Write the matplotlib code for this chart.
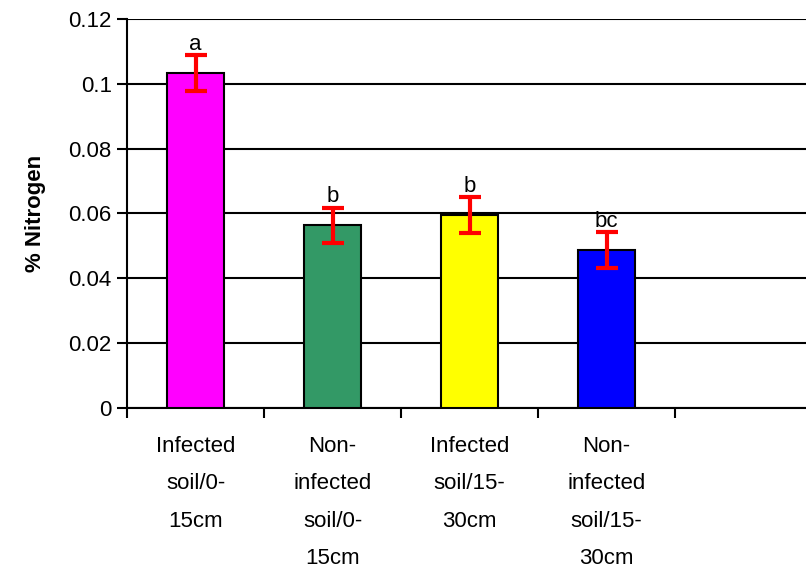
import matplotlib.pyplot as plt

plt.rcParams['font.family'] = ['Liberation Sans', 'DejaVu Sans']

labels = ['Infected\nsoil/0-\n15cm', 'Non-\ninfected\nsoil/0-\n15cm',
          'Infected\nsoil/15-\n30cm', 'Non-\ninfected\nsoil/15-\n30cm']
nitrogen = [0.1033, 0.0563, 0.0595, 0.0487]
errors = [0.0055, 0.0055, 0.0055, 0.0055]
letters = ['a', 'b', 'b', 'bc']
colors = ['#FF00FF', '#339966', '#FFFF00', '#0000FF']

fig = plt.figure(figsize=(8.06, 5.70), dpi=100)
ax = fig.add_axes([0.1576, 0.2842, 1 - 0.1576, 0.6825])

x = list(range(len(nitrogen)))
ax.bar(x, nitrogen, width=0.41, color=colors, edgecolor='black', linewidth=1.5, zorder=3)
ax.errorbar(x, nitrogen, yerr=errors, fmt='none', ecolor='red', elinewidth=3,
            capsize=8, capthick=3, zorder=4)
for xi, v, e, s in zip(x, nitrogen, errors, letters):
    ax.text(xi, v + e + 0.0002, s, ha='center', va='bottom', fontsize=16, zorder=5)

ax.set_ylim(0, 0.12)
ax.set_yticks([0, 0.02, 0.04, 0.06, 0.08, 0.1, 0.12])
ax.set_yticklabels(['0', '0.02', '0.04', '0.06', '0.08', '0.1', '0.12'])
ax.yaxis.grid(True, color='black', linewidth=1.5, zorder=0)
ax.set_axisbelow(True)

ax.set_xlim(-0.5, 4.456)
ax.set_xticks([-0.5, 0.5, 1.5, 2.5, 3.5])
ax.set_xticklabels([])
ax.set_xticks(x, minor=True)
ax.set_xticklabels(labels, minor=True, fontsize=16, linespacing=2.03, va='top')
ax.tick_params(axis='x', which='minor', length=0, pad=20)
ax.tick_params(axis='x', which='major', length=7, width=1.5, direction='out')
ax.tick_params(axis='y', length=7, width=1.5, labelsize=16, pad=4)

for side in ['top', 'right']:
    ax.spines[side].set_visible(False)
ax.spines['left'].set_linewidth(1.5)
ax.spines['bottom'].set_linewidth(1.5)

ax.set_ylabel('% Nitrogen', fontsize=16, fontweight='bold', labelpad=16)

fig.savefig('out.png', dpi=100)
